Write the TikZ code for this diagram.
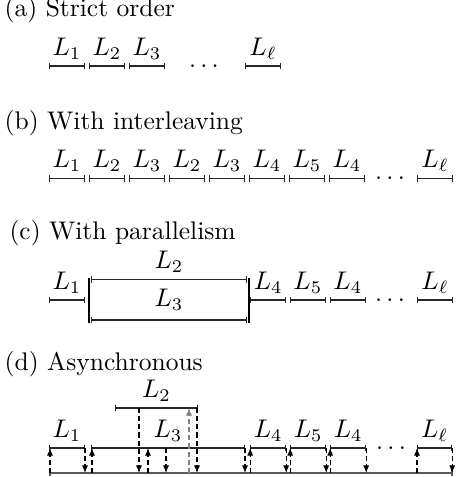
\documentclass[tikz,border=0pt]{standalone}
\usetikzlibrary{arrows.meta, positioning}

\begin{document}
\begin{tikzpicture}[
        x=0.5512cm, y=0.5512cm,
        title/.style={anchor=base west, inner sep=0pt},
        seg/.style={{Bar[width=2.6pt]}-{Bar[width=2.6pt]}, black!85},
        lbl/.style={midway, above, inner sep=2.4pt, text=black},
        wall/.style={thick},
        base/.style={{Bar[width=2.6pt]}-{Bar[width=2.6pt]}, line width=0.6pt, black!65},
        msg/.style={dash pattern=on 2pt off 1.2pt, -{Latex[length=3pt, width=2.4pt]}}
    ]
    \useasboundingbox (-1.175,0) rectangle (10.2,-11.925);

    % --- (a) ---
    \node[title] (title_a) at (-1.07,-0.425) {(a) Strict order};
    \draw[seg] (0.05,-1.65) -- node[lbl] (a_l1) {$L_1$} (0.95,-1.65);
    \draw[seg] (1.05,-1.65) -- node[lbl] (a_l2) {$L_2$} (1.95,-1.65);
    \draw[seg] (2.05,-1.65) -- node[lbl] (a_l3) {$L_3$} (2.95,-1.65);
    \node (a_dots) at (3.925,-1.65) {$\dots$};
    \draw[seg] (4.95,-1.65) -- node[lbl] (a_ll) {$L_\ell$} (5.85,-1.65);

    % --- (b) ---
    \node[title] (title_b) at (-1.07,-3.25) {(b) With interleaving};
    \draw[seg] (0.05,-4.46) -- node[lbl] (b_l1) {$L_1$} (0.95,-4.46);
    \draw[seg] (1.05,-4.46) -- node[lbl] (b_l2) {$L_2$} (1.95,-4.46);
    \draw[seg] (2.05,-4.46) -- node[lbl] (b_l3) {$L_3$} (2.95,-4.46);
    \draw[seg] (3.05,-4.46) -- node[lbl] (b_l2b) {$L_2$} (3.95,-4.46);
    \draw[seg] (4.05,-4.46) -- node[lbl] (b_l3b) {$L_3$} (4.95,-4.46);
    \draw[seg] (5.05,-4.46) -- node[lbl] (b_l4) {$L_4$} (5.95,-4.46);
    \draw[seg] (6.05,-4.46) -- node[lbl] (b_l5) {$L_5$} (6.95,-4.46);
    \draw[seg] (7.05,-4.46) -- node[lbl] (b_l4b) {$L_4$} (7.95,-4.46);
    \node (b_dots) at (8.575,-4.46) {$\dots$};
    \draw[seg] (9.25,-4.46) -- node[lbl] (b_ll) {$L_\ell$} (10.15,-4.46);

    % --- (c) ---
    \node[title] (title_c) at (-0.95,-5.975) {(c) With parallelism};
    \draw[seg] (0.05,-7.5) -- node[lbl] (c_l1) {$L_1$} (0.95,-7.5);
    \draw[wall] (1.05,-6.95) -- (1.05,-8.075);
    \draw[seg] (1.1,-6.98) -- node[lbl] (c_l2) {$L_2$} (5.0,-6.98);
    \draw[seg] (1.1,-8.0) -- (5.0,-8.0);
    \node (c_l3) at (3.05,-7.49) {$L_3$};
    \draw[wall] (5.04,-6.95) -- (5.04,-8.075);
    \draw[seg] (5.08,-7.5) -- node[lbl] (c_l4) {$L_4$} (5.98,-7.5);
    \draw[seg] (6.07,-7.5) -- node[lbl] (c_l5) {$L_5$} (6.97,-7.5);
    \draw[seg] (7.07,-7.5) -- node[lbl] (c_l4b) {$L_4$} (7.97,-7.5);
    \node (c_dots) at (8.575,-7.5) {$\dots$};
    \draw[seg] (9.25,-7.5) -- node[lbl] (c_ll) {$L_\ell$} (10.15,-7.5);

    % --- (d) ---
    \node[title] (title_d) at (-1.07,-9.25) {(d) Asynchronous};
    \draw[seg] (1.7,-10.2) -- node[lbl] (d_l2) {$L_2$} (3.775,-10.2);
    \draw[seg] (0.05,-11.2) -- node[lbl] (d_l1) {$L_1$} (0.95,-11.2);
    \draw[seg] (1.1,-11.2) -- node[lbl] (d_l3) {$L_3$} (4.95,-11.2);
    \draw[seg] (5.08,-11.2) -- node[lbl] (d_l4) {$L_4$} (5.98,-11.2);
    \draw[seg] (6.08,-11.2) -- node[lbl] (d_l5) {$L_5$} (6.98,-11.2);
    \draw[seg] (7.08,-11.2) -- node[lbl] (d_l4b) {$L_4$} (7.98,-11.2);
    \node (d_dots) at (8.6,-11.2) {$\dots$};
    \draw[seg] (9.25,-11.2) -- node[lbl] (d_ll) {$L_\ell$} (10.13,-11.2);
    \draw[base] (0.05,-11.825) -- (10.15,-11.825);

    % messages to and from the bottom line
    \draw[msg] (0.075,-11.825) -- (0.075,-11.2);
    \draw[msg] (0.95,-11.2) -- (0.95,-11.825);
    \draw[msg] (1.125,-11.825) -- (1.125,-11.2);
    \draw[msg] (2.3,-10.2) -- (2.3,-11.825);
    \draw[msg] (2.525,-11.825) -- (2.525,-11.2);
    \draw[msg] (2.975,-11.2) -- (2.975,-11.825);
    \draw[msg, gray] (3.55,-11.825) -- (3.55,-10.2);
    \draw[msg] (3.75,-10.2) -- (3.75,-11.825);
    \draw[msg] (4.95,-11.2) -- (4.95,-11.825);
    \draw[msg] (5.08,-11.825) -- (5.08,-11.2);
    \draw[msg] (5.98,-11.2) -- (5.98,-11.825);
    \draw[msg] (6.08,-11.825) -- (6.08,-11.2);
    \draw[msg] (6.98,-11.2) -- (6.98,-11.825);
    \draw[msg] (7.08,-11.825) -- (7.08,-11.2);
    \draw[msg] (7.98,-11.2) -- (7.98,-11.825);
    \draw[msg] (9.25,-11.825) -- (9.25,-11.2);
    \draw[msg] (10.13,-11.2) -- (10.13,-11.825);

\end{tikzpicture}
\end{document}
